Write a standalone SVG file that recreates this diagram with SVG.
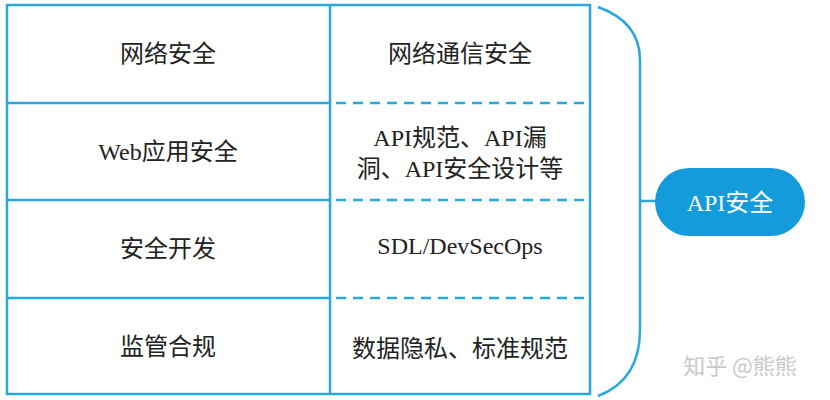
<svg xmlns="http://www.w3.org/2000/svg" width="830" height="400" viewBox="0 0 830 400">
<style>
.l{stroke:#2aa8dc;stroke-width:2.5;fill:none}
.d{stroke:#2aa8dc;stroke-width:2.5;stroke-dasharray:10 7;fill:none}
.t{font-family:"Liberation Serif","Noto Sans CJK SC",serif;font-size:24px;fill:#222;text-anchor:middle}
</style>
<rect width="830" height="400" fill="#fff"/>
<g id="table">
<rect class="l" x="7" y="5" width="583" height="389"/>
<line class="l" x1="330" y1="5" x2="330" y2="394"/>
<line class="l" x1="7" y1="103" x2="330" y2="103"/>
<line class="l" x1="7" y1="200" x2="330" y2="200"/>
<line class="l" x1="7" y1="298" x2="330" y2="298"/>
<line class="d" x1="336" y1="103" x2="590" y2="103"/>
<line class="d" x1="336" y1="200" x2="590" y2="200"/>
<line class="d" x1="336" y1="298" x2="590" y2="298"/>
</g>
<g id="r1"><text class="t" x="168" y="62">网络安全</text><text class="t" x="460" y="62">网络通信安全</text></g>
<g id="r2"><text class="t" x="168" y="160">Web应用安全</text><text class="t" x="460" y="146">API规范、API漏</text><text class="t" x="460" y="177">洞、API安全设计等</text></g>
<g id="r3"><text class="t" x="168" y="257">安全开发</text><text class="t" x="460" y="254">SDL/DevSecOps</text></g>
<g id="r4"><text class="t" x="168" y="355">监管合规</text><text class="t" x="460" y="357">数据隐私、标准规范</text></g>
<g id="connectors">
<path class="l" d="M598 7 Q640 22 640 60 V330 Q640 380 598 396"/>
<line class="l" x1="640" y1="201" x2="656" y2="201"/>
</g>
<g id="api">
<rect x="655" y="168" width="150" height="68" rx="34" fill="#139bdc"/>
<text x="730" y="211" font-family="Liberation Serif,Noto Sans CJK SC,serif" font-size="24" fill="#fff" text-anchor="middle">API安全</text>
</g>
<text x="740" y="374" font-family="Noto Sans CJK SC,sans-serif" font-size="22" fill="#c8c8c8" text-anchor="middle">知乎 @熊熊</text>
</svg>
